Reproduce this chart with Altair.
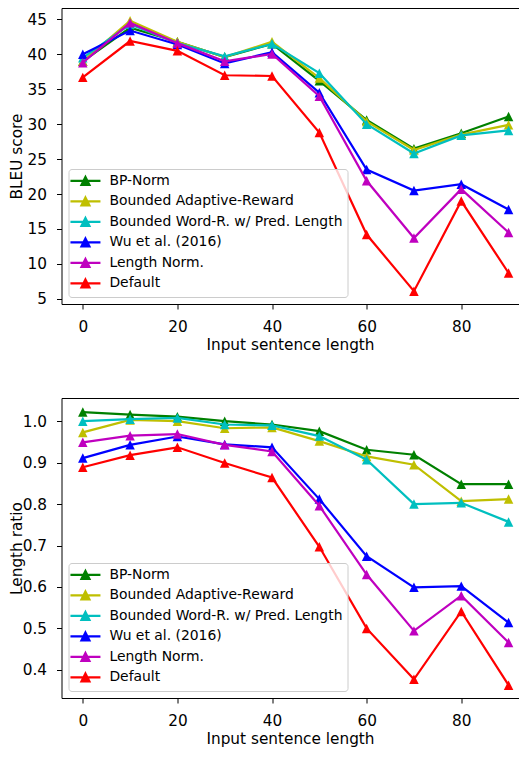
import altair as alt
import pandas as pd

# ---------------- data ----------------
x_lengths = [0, 10, 20, 30, 40, 50, 60, 70, 80, 90]
x_ticks = [0, 20, 40, 60, 80]

series_names = [
    "BP-Norm",
    "Bounded Adaptive-Reward",
    "Bounded Word-R. w/ Pred. Length",
    "Wu et al. (2016)",
    "Length Norm.",
    "Default",
]
series_colors = ["#008000", "#bfbf00", "#00bfbf", "#0000ff", "#bf00bf", "#ff0000"]

bleu_bp_norm = [39.0, 43.8, 41.8, 39.6, 41.5, 36.2, 30.6, 26.5, 28.7, 31.1]
bleu_bounded_adaptive = [39.0, 44.8, 41.8, 39.6, 41.8, 36.6, 30.4, 26.3, 28.5, 29.9]
bleu_bounded_word = [39.5, 44.3, 41.6, 39.7, 41.5, 37.3, 30.0, 25.8, 28.4, 29.1]
bleu_wu = [40.0, 43.4, 41.4, 38.7, 40.3, 34.5, 23.5, 20.5, 21.4, 17.8]
bleu_length_norm = [38.8, 44.5, 41.6, 39.0, 40.05, 34.0, 21.9, 13.7, 20.7, 14.5]
bleu_default = [36.7, 41.9, 40.5, 37.0, 36.9, 28.8, 14.2, 6.1, 19.0, 8.7]
bleu_ticks = [5, 10, 15, 20, 25, 30, 35, 40, 45]

ratio_bp_norm = [1.022, 1.016, 1.011, 1.000, 0.992, 0.976, 0.931, 0.919, 0.848, 0.848]
ratio_bounded_adaptive = [0.973, 1.003, 1.000, 0.983, 0.985, 0.952, 0.915, 0.895, 0.807, 0.812]
ratio_bounded_word = [1.000, 1.005, 1.008, 0.992, 0.990, 0.964, 0.907, 0.800, 0.803, 0.757]
ratio_wu = [0.911, 0.943, 0.963, 0.944, 0.937, 0.812, 0.674, 0.599, 0.602, 0.514]
ratio_length_norm = [0.949, 0.965, 0.969, 0.943, 0.927, 0.796, 0.630, 0.494, 0.579, 0.466]
ratio_default = [0.889, 0.918, 0.937, 0.899, 0.864, 0.697, 0.500, 0.377, 0.541, 0.363]
ratio_ticks = [0.4, 0.5, 0.6, 0.7, 0.8, 0.9, 1.0]

bleu_series = [bleu_bp_norm, bleu_bounded_adaptive, bleu_bounded_word, bleu_wu, bleu_length_norm, bleu_default]
ratio_series = [ratio_bp_norm, ratio_bounded_adaptive, ratio_bounded_word, ratio_wu, ratio_length_norm, ratio_default]

FONT = "DejaVu Sans"
TRI = "M0,-1L1,1L-1,1Z"
LEG_PATH = "M-3,0L3,0M0,-0.8L0.8,0.8L-0.8,0.8Z"
LEG_PATH_FALLBACK = "M-3,0L3,0M0,-0.8L0.8,0.8L-0.8,0.8ZM0,-0.3L0.35,0.5L-0.35,0.5Z"


def long_table(values):
    rows = []
    for name, vals in zip(series_names, values):
        for xv, yv in zip(x_lengths, vals):
            rows.append({"series": name, "length": xv, "value": yv})
    return pd.DataFrame(rows)


color_expr = " : ".join(
    f"datum.value === '{n}' ? '{c}'" for n, c in zip(series_names[:-1], series_colors[:-1])
) + f" : '{series_colors[-1]}'"


def make_legend(with_encode):
    kw = dict(
        title=None, orient="bottom-left", offset=7,
        symbolType=LEG_PATH if with_encode else LEG_PATH_FALLBACK,
        symbolSize=100, symbolStrokeWidth=2.2, symbolOffset=5, symbolOpacity=1,
        labelOffset=17, labelFont=FONT, labelFontSize=13.9, labelColor="black",
        labelLimit=400, padding=5, rowPadding=2.5,
        fillColor="rgba(255,255,255,0.8)", strokeColor="#cccccc", cornerRadius=3,
    )
    if with_encode:
        kw["encode"] = {"symbols": {"update": {
            "fill": {"signal": color_expr},
            "stroke": {"signal": color_expr},
        }}}
    return alt.Legend(**kw)


def panel(df, ytitle, ydomain, yvalues, yformat, height, with_encode):
    x_scale = alt.Scale(domain=[-4.5, 92.1], nice=False, zero=False)
    x_bottom = alt.X("length:Q", scale=x_scale,
                     axis=alt.Axis(values=x_ticks, format="d", title="Input sentence length",
                                   domain=True, domainColor="black", domainWidth=1))
    x_top = alt.X("length:Q", scale=x_scale,
                  axis=alt.Axis(orient="top", labels=False, ticks=False, title=None,
                                domain=True, domainColor="black", domainWidth=1))
    x_none = alt.X("length:Q", scale=x_scale, axis=None)
    y = alt.Y("value:Q", scale=alt.Scale(domain=ydomain, nice=False, zero=False),
              axis=alt.Axis(values=yvalues, format=yformat, title=ytitle,
                            domain=True, domainColor="black", domainWidth=1))
    color = alt.Color("series:N", scale=alt.Scale(domain=series_names, range=series_colors),
                      legend=make_legend(with_encode))
    layers = []
    base = alt.Chart(df)
    for i, s in enumerate(series_names):
        b = base.transform_filter(alt.datum.series == s)
        xl = x_bottom if i == 0 else x_none
        xp = x_top if i == 0 else x_none
        layers.append(b.mark_line(strokeWidth=2.2).encode(x=xl, y=y, color=color))
        layers.append(b.mark_point(filled=True, shape=TRI, size=90, opacity=1)
                      .encode(x=xp, y=y, color=color))
    return (alt.layer(*layers).resolve_axis(x="independent")
            .properties(width=457, height=height))


def build(with_encode):
    top = panel(long_table(bleu_series), "BLEU score", [4.26, 46.63], bleu_ticks, "d", 296, with_encode)
    bottom = panel(long_table(ratio_series), "Length ratio", [0.332, 1.056], ratio_ticks, ".1f", 300, with_encode)
    return (
        alt.vconcat(top, bottom, spacing=45)
        .resolve_scale(color="independent")
        .properties(padding={"left": 1.5, "top": 0, "right": 0, "bottom": 0})
        .configure_view(stroke=None)
        .configure_axis(
            labelFont=FONT, labelFontSize=15.3, labelColor="black",
            titleFont=FONT, titleFontSize=15.3, titleFontWeight="normal", titleColor="black",
            tickColor="black", tickSize=5, tickWidth=1, grid=False,
            labelPadding=10,
        )
        .configure_axisY(minExtent=30, maxExtent=30, titlePadding=7)
        .configure_axisX(titlePadding=3)
    )


try:
    chart = build(True)
    chart.to_dict()
except Exception:
    chart = build(False)

chart.save("out.html", embed_options={"renderer": "svg", "actions": False})
